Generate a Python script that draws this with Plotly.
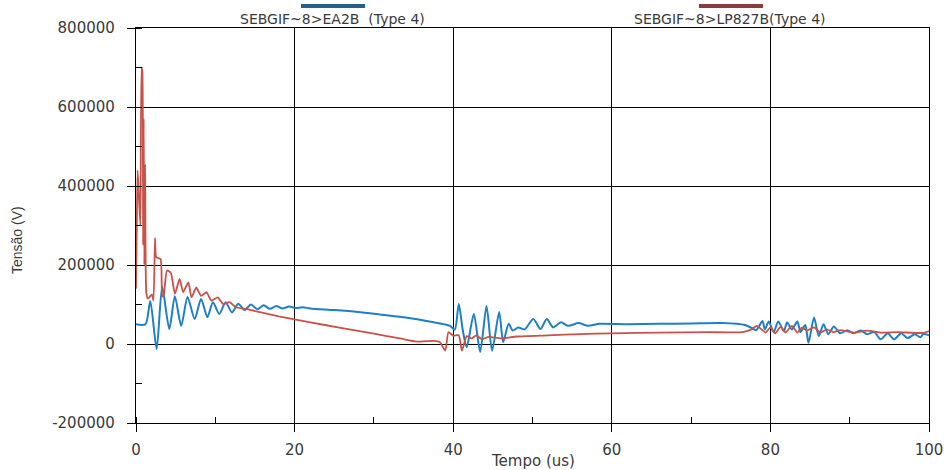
import plotly.graph_objects as go

# ---------------- data ----------------
blue_name = "SEBGIF~8>EA2B  (Type 4)"
red_name = "SEBGIF~8>LP827B(Type 4)"
x_title = "Tempo (us)"
y_title = "Tensão (V)"

blue_t = [0, 1.2, 1.8, 2.6, 3.3, 4.2, 4.9, 5.7, 6.5, 7.4, 8.2, 9.0, 9.7, 10.5, 11.3, 12.1, 12.9,
          13.7, 14.5, 15.3, 16.1, 16.9, 17.7, 18.5, 19.3, 20.1, 21.0, 22.0, 25, 28, 31, 34, 37,
          39.6, 40.2, 40.7, 41.2, 41.7, 42.6, 43.4, 44.2, 44.9, 45.8, 46.3, 47.0, 47.5, 48.2,
          49.0, 50.1, 51.0, 51.8, 52.6, 53.6, 54.5, 55.8, 57.0, 58.5, 62, 66, 70, 74, 76.8,
          77.6, 78.2, 79.0, 79.3, 79.8, 80.4, 81.0, 81.7, 82.1, 82.7, 83.4, 83.8, 84.4, 84.8,
          85.5, 86.1, 86.7, 87.3, 88.0, 88.8, 89.7, 90.5, 91.4, 92.2, 93.1, 93.9, 94.8, 95.6,
          96.5, 97.3, 98.2, 98.9, 99.3, 100]
blue_v = [50000, 50000, 109000, -13000, 145000, 38000, 121000, 46000, 119000, 63000, 114000,
          68000, 106000, 76000, 106000, 80000, 102000, 86000, 100000, 88000, 98000, 89000,
          96000, 90000, 95000, 91000, 93000, 90000, 86000, 81000, 74000, 67000, 57000,
          46000, 36000, 101000, 36000, -8000, 76000, -20000, 96000, -17000, 81000, 5000,
          51000, 34000, 42000, 37000, 63000, 38000, 63000, 42000, 55000, 46000, 53000, 46000,
          51000, 50000, 51000, 52000, 53000, 48000, 41000, 35000, 58000, 37000, 57000, 30000,
          57000, 32000, 55000, 37000, 57000, 30000, 48000, 3000, 67000, 20000, 50000, 25000,
          44000, 27000, 35000, 27000, 34000, 25000, 30000, 12000, 27000, 12000, 27000, 15000,
          25000, 17000, 25000, 22000]

red_t = [0, 0.1, 0.2, 0.35, 0.55, 0.7, 0.8, 0.9, 0.97, 1.05, 1.15, 1.3, 1.5, 2.0, 2.2, 2.4,
         2.55, 3.1, 3.3, 3.5, 3.9, 4.4, 4.9, 5.5, 5.95, 6.6, 7.0, 7.6, 8.2, 8.9, 9.5, 10.3,
         11.0, 11.8, 12.6, 14, 18, 22, 26, 30, 33.3, 35.4, 37.5, 38.3, 39.0, 39.4, 40.0, 40.7,
         41.1, 41.7, 42.3, 42.9, 43.6, 44.5, 46, 48, 52, 56, 60, 66, 72, 76.5, 77.6, 78.3,
         79.4, 80.0, 80.6, 81.3, 81.9, 82.7, 83.4, 84.0, 84.6, 85.5, 86.3, 87.1, 88.0, 88.8,
         90.5, 92.2, 93.9, 96.1, 99.3, 100]
red_v = [140000, 300000, 440000, 380000, 300000, 700000, 690000, 250000, 570000, 200000,
         455000, 130000, 115000, 125000, 110000, 268000, 220000, 215000, 120000, 125000,
         186000, 180000, 127000, 165000, 131000, 156000, 118000, 143000, 122000, 131000,
         110000, 118000, 101000, 106000, 93000, 88000, 70000, 55000, 40000, 26000, 14000,
         6000, 8000, 5000, -17000, 30000, 21000, 22000, -17000, 20000, 14000, 22000, 12000,
         18000, 14000, 19000, 22000, 25000, 27000, 29000, 30000, 30000, 37000, 46000, 29000,
         42000, 27000, 44000, 29000, 46000, 29000, 42000, 34000, 42000, 29000, 37000, 30000,
         35000, 29000, 34000, 29000, 30000, 28000, 33000]

y_tickvals = [-200000, 0, 200000, 400000, 600000, 800000]
y_ticktext = ["-200000", "0", "200000", "400000", "600000", "800000"]
x_tickvals = [0, 20, 40, 60, 80, 100]

BLUE = "rgb(30,128,196)"
RED = "rgb(200,82,72)"
FONT = "DejaVu Sans"
TXT = "#3a3a3a"

fig = go.Figure()
fig.add_trace(go.Scatter(x=blue_t, y=blue_v, mode="lines", name=blue_name,
                         line=dict(color=BLUE, width=2, shape="spline", smoothing=0.7)))
fig.add_trace(go.Scatter(x=red_t, y=red_v, mode="lines", name=red_name,
                         line=dict(color=RED, width=1.8, shape="spline", smoothing=0.5)))

axis_common = dict(showline=True, linecolor="black", linewidth=1.3, mirror=True,
                   showgrid=True, gridcolor="black", gridwidth=1.2, zeroline=False,
                   ticks="outside", ticklen=8, tickcolor="black", tickwidth=1.2,
                   automargin=False,
                   tickfont=dict(family=FONT, size=15, color=TXT))

fig.update_xaxes(range=[0, 100], tickvals=x_tickvals, **axis_common,
                 ticklabelstandoff=5,
                 minor=dict(ticks="inside", ticklen=6, dtick=10, tick0=0, tickcolor="black", showgrid=False))
fig.update_yaxes(range=[-200000, 800000], tickvals=y_tickvals, ticktext=y_ticktext, **axis_common,
                 ticklabelstandoff=9,
                 minor=dict(ticks="inside", ticklen=6, dtick=100000, tick0=0, tickcolor="black", showgrid=False))

# axis titles
fig.add_annotation(xref="paper", yref="paper", x=0.5, y=-(461 - 423) / 395, yanchor="middle",
                   xanchor="center", text=x_title, showarrow=False,
                   font=dict(family=FONT, size=15, color=TXT))
fig.add_annotation(xref="paper", yref="paper", x=-(136 - 17) / 793, y=(423 - 240) / 395,
                   yanchor="middle", xanchor="center", textangle=-90, text=y_title,
                   showarrow=False, font=dict(family="Liberation Sans", size=14, color=TXT))

# legend drawn above plot: colored bars + labels
fig.add_shape(type="line", xref="paper", yref="paper", x0=(301-136)/793, x1=(365-136)/793,
              y0=1.0557, y1=1.0557, line=dict(color="rgb(40,95,135)", width=4))
fig.add_shape(type="line", xref="paper", yref="paper", x0=(699-136)/793, x1=(763-136)/793,
              y0=1.0557, y1=1.0557, line=dict(color="rgb(140,60,60)", width=4))
fig.add_annotation(xref="paper", yref="paper", x=(332-136)/793, y=1.0, yshift=-1, yanchor="bottom",
                   xanchor="center", text=blue_name.replace("  ", "&nbsp; "), showarrow=False,
                   font=dict(family=FONT, size=14, color=TXT))
fig.add_annotation(xref="paper", yref="paper", x=(730-136)/793, y=1.0, yshift=-1, yanchor="bottom",
                   xanchor="center", text=red_name, showarrow=False,
                   font=dict(family=FONT, size=14, color=TXT))

fig.update_layout(width=944, height=470, margin=dict(l=136, r=15, t=28, b=47),
                  paper_bgcolor="white", plot_bgcolor="white", showlegend=False)

fig.write_html("out.html")
